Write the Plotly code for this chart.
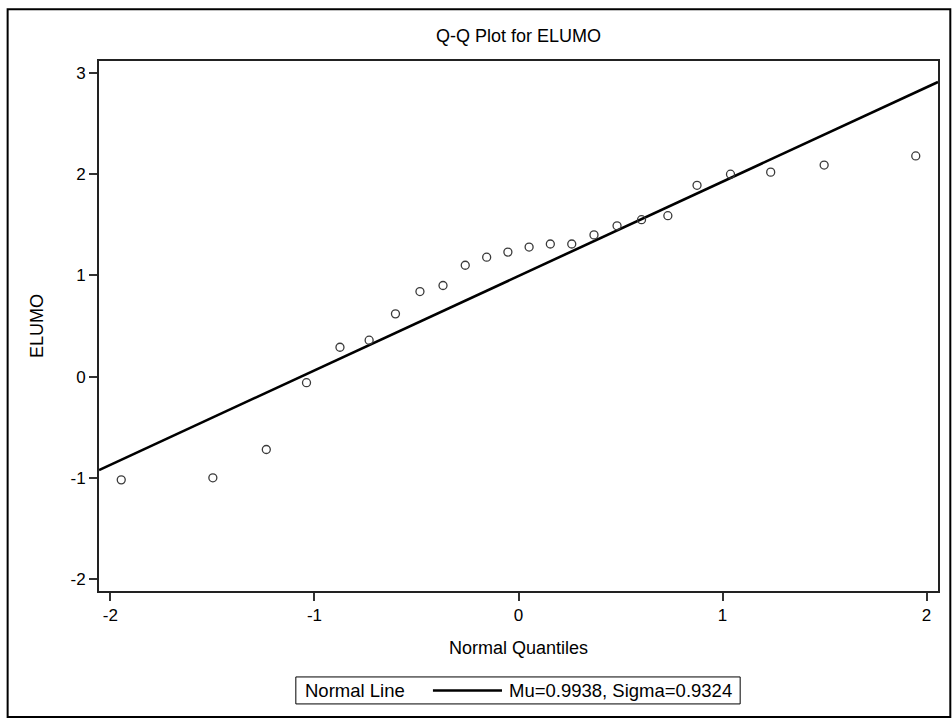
import plotly.graph_objects as go

# ---- data ----
normal_quantiles = [-1.947, -1.498, -1.236, -1.039, -0.875, -0.732, -0.603, -0.483,
                    -0.370, -0.261, -0.156, -0.052, 0.052, 0.156, 0.261, 0.370,
                    0.483, 0.603, 0.732, 0.875, 1.039, 1.236, 1.498, 1.947]
elumo = [-1.02, -1.00, -0.72, -0.06, 0.29, 0.36, 0.62, 0.84,
         0.90, 1.10, 1.18, 1.23, 1.28, 1.31, 1.31, 1.40,
         1.49, 1.55, 1.59, 1.89, 2.00, 2.02, 2.09, 2.18]
mu = 0.9938
sigma = 0.9324
x_ticks = [-2, -1, 0, 1, 2]
y_ticks = [-2, -1, 0, 1, 2, 3]
x_range = [-2.056, 2.056]
y_range = [-2.118, 3.118]
legend_title = "Normal Line"
legend_label = f"Mu={mu:.4f}, Sigma={sigma:.4f}"

# ---- figure geometry (pixels) ----
W, H = 952, 719
L, R, T, B = 99.3, 14.3, 60.7, 128
pw = W - L - R
ph = H - T - B

FONT = "Liberation Sans, Arial, sans-serif"


def px_x(p):
    return (p - L) / pw


def px_y(p):
    return 1 - (p - T) / ph


line_x = list(x_range)
line_y = [mu + sigma * v for v in line_x]

fig = go.Figure()
fig.add_trace(go.Scatter(
    x=line_x, y=line_y, mode="lines",
    line=dict(color="black", width=2.6),
    name=legend_label, showlegend=False, hoverinfo="skip",
))
fig.add_trace(go.Scatter(
    x=normal_quantiles, y=elumo, mode="markers",
    marker=dict(symbol="circle-open", size=8, color="#3a3a3a",
                line=dict(width=1.3, color="#3a3a3a")),
    showlegend=False,
))

axis_common = dict(
    showgrid=False, zeroline=False, showline=True, mirror=True,
    linecolor="#222", linewidth=2, ticks="outside", ticklen=8,
    tickwidth=1.5, tickcolor="#333",
    tickfont=dict(family=FONT, size=17, color="black"),
)

fig.update_layout(
    width=W, height=H, autosize=False,
    margin=dict(l=L, r=R, t=T, b=B, pad=0),
    paper_bgcolor="white", plot_bgcolor="white",
    font=dict(family=FONT, size=18, color="black"),
    showlegend=False,
    title=dict(text="Q-Q Plot for ELUMO", x=0.5, xref="paper",
               y=1 - 36 / H, yref="container", yanchor="middle",
               xanchor="center", font=dict(family=FONT, size=18, color="black")),
    xaxis=dict(range=x_range, tickvals=x_ticks, ticktext=[str(v) for v in x_ticks],
               ticklabelstandoff=0,
               title=dict(text="Normal Quantiles", standoff=17,
                          font=dict(family=FONT, size=18, color="black")),
               **axis_common),
    yaxis=dict(range=y_range, tickvals=y_ticks, ticktext=[str(v) for v in y_ticks],
               title=dict(text="ELUMO", standoff=22,
                          font=dict(family=FONT, size=18, color="black")),
               **axis_common),
)

# legend box (drawn by hand to match the original layout)
lg_x0, lg_x1, lg_y0, lg_y1 = 296, 740, 677, 704
lg_mid = (lg_y0 + lg_y1) / 2
fig.add_shape(type="rect", xref="paper", yref="paper",
              x0=px_x(lg_x0), x1=px_x(lg_x1), y0=px_y(lg_y1), y1=px_y(lg_y0),
              line=dict(color="black", width=1), fillcolor="white", layer="above")
fig.add_shape(type="line", xref="paper", yref="paper",
              x0=px_x(433), x1=px_x(502), y0=px_y(lg_mid), y1=px_y(lg_mid),
              line=dict(color="black", width=2.6), layer="above")
fig.add_annotation(xref="paper", yref="paper", x=px_x(303), y=px_y(lg_mid),
                   text=legend_title, showarrow=False, xanchor="left",
                   yanchor="middle", font=dict(family=FONT, size=18.5, color="black"))
fig.add_annotation(xref="paper", yref="paper", x=px_x(507), y=px_y(lg_mid),
                   text=legend_label, showarrow=False, xanchor="left",
                   yanchor="middle", font=dict(family=FONT, size=18.5, color="black"))

# outer frame around the whole graphic
fig.add_shape(type="rect", xref="paper", yref="paper",
              x0=px_x(8), x1=px_x(950), y0=px_y(717), y1=px_y(9),
              line=dict(color="black", width=2), fillcolor="rgba(0,0,0,0)",
              layer="above")

fig.write_html("out.html")
